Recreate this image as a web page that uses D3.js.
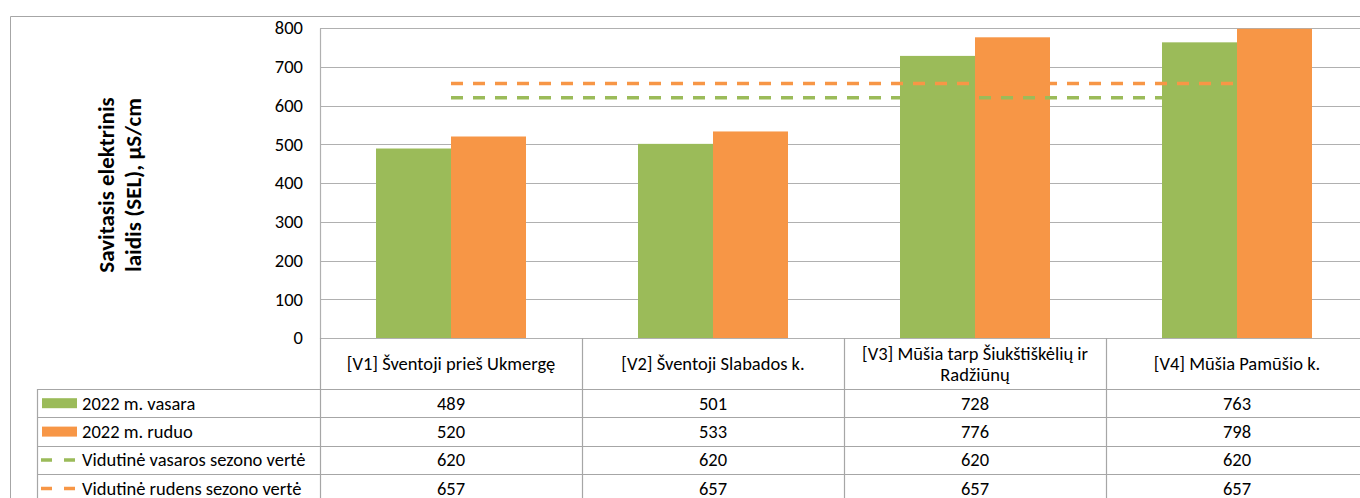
<!DOCTYPE html>
<html><head><meta charset="utf-8">
<script src="https://cdn.jsdelivr.net/npm/d3@7"></script>
<style>
html,body{margin:0;padding:0;background:#fff;}
svg{display:block;font-family:Carlito, Lato, "Open Sans", sans-serif;}
</style></head>
<body>
<svg id="chart" width="1360" height="498"></svg>
<script>
const categories = [["[V1] Šventoji prieš Ukmergę"], ["[V2] Šventoji Slabados k."], ["[V3] Mūšia tarp Šiukštiškėlių ir", "Radžiūnų"], ["[V4] Mūšia Pamūšio k."]];
const seriesNames = ["2022 m. vasara", "2022 m. ruduo", "Vidutinė vasaros sezono vertė", "Vidutinė rudens sezono vertė"];
const summer = [489, 501, 728, 763];
const autumn = [520, 533, 776, 798];
const avgSummer = [620, 620, 620, 620];
const avgAutumn = [657, 657, 657, 657];
const yTicks = [0, 100, 200, 300, 400, 500, 600, 700, 800];
const yTitle = ["Savitasis elektrinis", "laidis (SEL), µS/cm"];

const GREEN = "#9bbb59", ORANGE = "#f79646", GRID = "#b0b0b0", BORDER = "#a6a6a6";
const FS = 18.5;
const svg = d3.select("#chart");
const catKeys = categories.map(c => c.join(" "));

const x0 = d3.scaleBand().domain(catKeys).range([320, 1368]);
const x1 = d3.scaleBand().domain(["s", "a"]).range([56, 206]);
const y = d3.scaleLinear().domain([0, 800]).range([338, 28]);

// outer border
svg.append("path").attr("d", "M10.5,498 V16.5 H1360").attr("fill", "none").attr("stroke", BORDER).attr("stroke-width", 1);

// gridlines
const gridG = svg.append("g");
gridG.selectAll("line").data(yTicks).join("line")
  .attr("x1", 320).attr("x2", 1360)
  .attr("y1", d => Math.round(y(d)) + 0.5).attr("y2", d => Math.round(y(d)) + 0.5)
  .attr("stroke", GRID).attr("stroke-width", 1.2);

// y axis
const yAxis = d3.axisLeft(y).tickValues(yTicks).tickSize(0).tickPadding(17);
const ya = svg.append("g").attr("transform", "translate(320,0)").call(yAxis);
ya.select(".domain").attr("stroke", GRID).attr("stroke-width", 1.2);
ya.selectAll("text").attr("font-size", FS).attr("fill", "#000").attr("font-family", "Carlito, Lato, sans-serif");

// bars
const bars = svg.append("g");
catKeys.forEach((k, i) => {
  bars.append("rect").attr("x", x0(k) + x1("s")).attr("width", x1.bandwidth())
    .attr("y", y(summer[i])).attr("height", y(0) - y(summer[i])).attr("fill", GREEN);
  bars.append("rect").attr("x", x0(k) + x1("a")).attr("width", x1.bandwidth())
    .attr("y", y(autumn[i])).attr("height", y(0) - y(autumn[i])).attr("fill", ORANGE);
});

// average lines
const lineGen = d3.line().x((d, i) => x0(catKeys[i]) + x0.bandwidth() / 2).y(d => y(d));
svg.append("path").datum(avgAutumn).attr("d", lineGen).attr("fill", "none")
  .attr("stroke", ORANGE).attr("stroke-width", 3.5).attr("stroke-dasharray", "12,10");
svg.append("path").datum(avgSummer).attr("d", lineGen).attr("fill", "none")
  .attr("stroke", GREEN).attr("stroke-width", 3.5).attr("stroke-dasharray", "12,10");

// y title
const yt = svg.append("text").attr("transform", "translate(119,185) rotate(-90)")
  .attr("text-anchor", "middle").attr("font-weight", "900").attr("font-size", 23).attr("fill", "#000");
yTitle.forEach((t, i) => yt.append("tspan").attr("x", 0).attr("y", i === 0 ? -13 : 14).attr("dy", "0.35em").text(t));

// data table
const tableG = svg.append("g");
const rowTop = 389, rowH = 28.4;
catKeys.forEach(k => {
  tableG.append("line").attr("x1", Math.round(x0(k)) + 0.5).attr("x2", Math.round(x0(k)) + 0.5)
    .attr("y1", 338).attr("y2", 498).attr("stroke", BORDER).attr("stroke-width", 1.2);
});
tableG.append("line").attr("x1", 37.5).attr("x2", 37.5).attr("y1", rowTop).attr("y2", 498).attr("stroke", BORDER).attr("stroke-width", 1.2);
for (let r = 0; r < 4; r++) {
  const yy = Math.round(rowTop + r * rowH) + 0.5;
  tableG.append("line").attr("x1", 37).attr("x2", 1360).attr("y1", yy).attr("y2", yy).attr("stroke", BORDER).attr("stroke-width", 1.2);
}
categories.forEach((lines, i) => {
  const cx = x0(catKeys[i]) + x0.bandwidth() / 2;
  const t = tableG.append("text").attr("text-anchor", "middle").attr("font-size", FS).attr("fill", "#000");
  const n = lines.length;
  lines.forEach((l, j) => {
    t.append("tspan").attr("x", cx).attr("y", 364 + (j - (n - 1) / 2) * 21).attr("dy", "0.35em").text(l);
  });
});
const rows = [summer, autumn, avgSummer, avgAutumn];
rows.forEach((vals, r) => {
  const cy = rowTop + r * rowH + rowH / 2;
  vals.forEach((v, i) => {
    tableG.append("text").attr("x", x0(catKeys[i]) + x0.bandwidth() / 2).attr("y", cy).attr("dy", "0.35em")
      .attr("text-anchor", "middle").attr("font-size", FS).attr("fill", "#000").text(v);
  });
  if (r < 2) {
    tableG.append("rect").attr("x", 42).attr("y", cy - 5).attr("width", 35).attr("height", 10)
      .attr("fill", r === 0 ? GREEN : ORANGE);
  } else {
    tableG.append("line").attr("x1", 41).attr("x2", 76).attr("y1", cy).attr("y2", cy)
      .attr("stroke", r === 2 ? GREEN : ORANGE).attr("stroke-width", 3.5).attr("stroke-dasharray", "11,12");
  }
  tableG.append("text").attr("x", 82).attr("y", cy).attr("dy", "0.35em").attr("font-size", FS).attr("fill", "#000").text(seriesNames[r]);
});
</script>
</body></html>
